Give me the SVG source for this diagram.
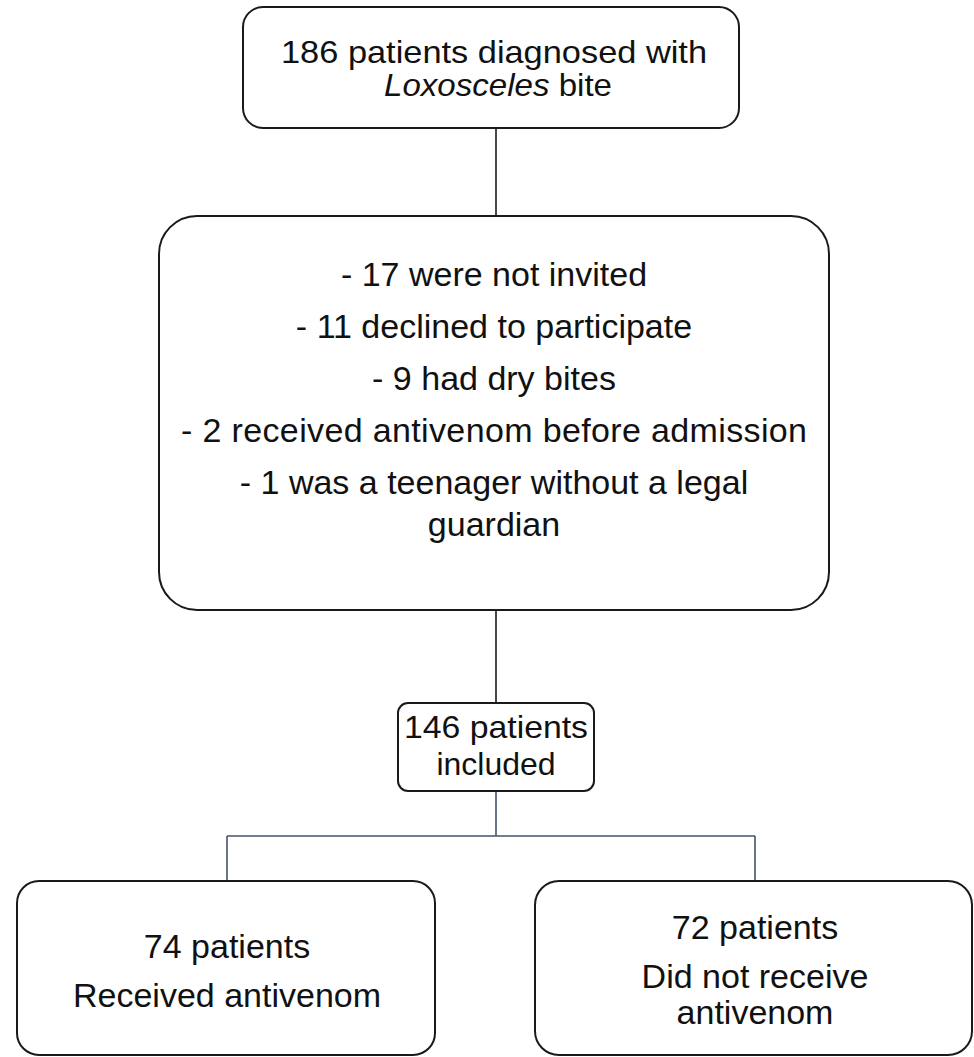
<svg xmlns="http://www.w3.org/2000/svg" width="974" height="1057" viewBox="0 0 974 1057">
<style>
.box{fill:#fff;stroke:#1a1a1a;stroke-width:2}
.t{font-family:"Liberation Sans",Arial,sans-serif;font-size:34px;fill:#111;text-anchor:middle}
.s{font-size:32px}
.c1{stroke:#1a1a1a;stroke-width:1.6;fill:none}
.c2{stroke:#44546a;stroke-width:1.6;fill:none}
</style>
<rect width="974" height="1057" fill="#fff"/>
<g id="connectors">
<line class="c1" x1="496" y1="128" x2="496" y2="216"/>
<line class="c1" x1="496" y1="610" x2="496" y2="703"/>
<path class="c2" d="M496 791 V836 M227 836 H755 M227 836 V881 M755 836 V881"/>
</g>
<g id="n1">
<rect class="box" x="243" y="7" width="496" height="121" rx="20"/>
<text class="t s" x="494" y="63" textLength="426" lengthAdjust="spacingAndGlyphs">186 patients diagnosed with</text>
<text class="t s" x="498" y="96" textLength="228" lengthAdjust="spacingAndGlyphs"><tspan font-style="italic">Loxosceles</tspan> bite</text>
</g>
<g id="n2">
<rect class="box" x="159" y="216" width="670" height="394" rx="38"/>
<text class="t" x="494" y="286">- 17 were not invited</text>
<text class="t" x="494" y="338">- 11 declined to participate</text>
<text class="t" x="494" y="390">- 9 had dry bites</text>
<text class="t" x="494" y="442" textLength="626" lengthAdjust="spacing">- 2 received antivenom before admission</text>
<text class="t" x="494" y="494">- 1 was a teenager without a legal</text>
<text class="t" x="494" y="536">guardian</text>
</g>
<g id="n3">
<rect class="box" x="398" y="703" width="196" height="88" rx="10"/>
<text class="t s" x="496" y="738" textLength="184" lengthAdjust="spacingAndGlyphs">146 patients</text>
<text class="t s" x="496" y="775">included</text>
</g>
<g id="n4">
<rect class="box" x="17" y="881" width="418" height="174" rx="22"/>
<text class="t" x="227" y="958">74 patients</text>
<text class="t" x="227" y="1007">Received antivenom</text>
</g>
<g id="n5">
<rect class="box" x="535" y="881" width="437" height="174" rx="24"/>
<text class="t" x="755" y="939">72 patients</text>
<text class="t" x="755" y="988">Did not receive</text>
<text class="t" x="755" y="1024">antivenom</text>
</g>
</svg>
